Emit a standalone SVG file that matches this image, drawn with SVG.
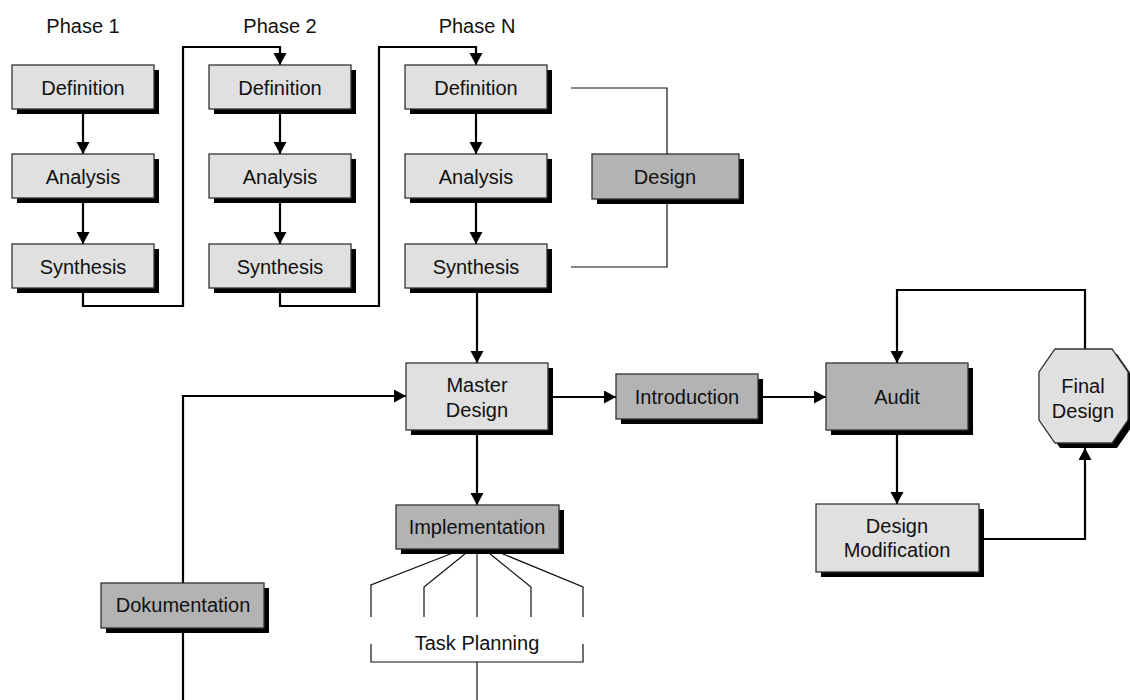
<svg xmlns="http://www.w3.org/2000/svg" width="1130" height="700" viewBox="0 0 1130 700">
  <style>
    .shadow { fill: #000; }
    .light { fill: #e0e0e0; stroke: #333; stroke-width: 1.3; }
    .dark { fill: #b3b3b3; stroke: #333; stroke-width: 1.3; }
    .lbl { font-family: "Liberation Sans", Arial, sans-serif; font-size: 20px; fill: #111; text-anchor: middle; }
    .flow { fill: none; stroke: #000; stroke-width: 2.2; }
    .thin { fill: none; stroke: #111; stroke-width: 1.2; }
  </style>
  <defs>
    <marker id="arrow" markerUnits="userSpaceOnUse" markerWidth="14" markerHeight="14" refX="12" refY="6.5" orient="auto">
      <path d="M0,0 L12,6.5 L0,13 z" fill="#000"/>
    </marker>
  </defs>
  <rect width="1130" height="700" fill="#fff"/>

  <!-- phase headings -->
  <text class="lbl" x="83" y="33">Phase 1</text>
  <text class="lbl" x="280" y="33">Phase 2</text>
  <text class="lbl" x="477" y="33">Phase N</text>

  <!-- connectors -->
  <g id="connectors">
    <path class="flow" d="M83,109 V154" marker-end="url(#arrow)"/>
    <path class="flow" d="M83,198 V244" marker-end="url(#arrow)"/>
    <path class="flow" d="M83,288 V306 H183 V47 H280 V65" marker-end="url(#arrow)"/>
    <path class="flow" d="M280,109 V154" marker-end="url(#arrow)"/>
    <path class="flow" d="M280,198 V244" marker-end="url(#arrow)"/>
    <path class="flow" d="M280,288 V306 H379 V47 H476 V65" marker-end="url(#arrow)"/>
    <path class="flow" d="M476,109 V154" marker-end="url(#arrow)"/>
    <path class="flow" d="M476,198 V244" marker-end="url(#arrow)"/>
    <path class="thin" d="M571,88 H667 V154"/>
    <path class="thin" d="M667,199 V267 H571"/>
    <path class="flow" d="M477,288 V363" marker-end="url(#arrow)"/>
    <path class="flow" d="M548,397 H616" marker-end="url(#arrow)"/>
    <path class="flow" d="M758,397 H826" marker-end="url(#arrow)"/>
    <path class="flow" d="M1085,349 V290 H897 V363" marker-end="url(#arrow)"/>
    <path class="flow" d="M897,430 V504" marker-end="url(#arrow)"/>
    <path class="flow" d="M979,539 H1085 V448" marker-end="url(#arrow)"/>
    <path class="flow" d="M477,430 V505" marker-end="url(#arrow)"/>
    <path class="flow" d="M183,583 V396 H406" marker-end="url(#arrow)"/>
    <path class="flow" d="M183,628 V700"/>
    <!-- task planning fan -->
    <path class="thin" d="M463,549 L371,585 V617"/>
    <path class="thin" d="M471,549 L424,587 V617"/>
    <path class="thin" d="M477,549 V617"/>
    <path class="thin" d="M484,549 L531,587 V617"/>
    <path class="thin" d="M491,549 L583,587 V617"/>
    <path class="thin" d="M371,644 V662 H583 V644"/>
    <path class="thin" d="M477,662 V700"/>
  </g>
  <text class="lbl" x="477" y="650">Task Planning</text>

  <!-- phase 1 -->
  <g id="p1-definition">
    <rect class="shadow" x="17" y="70" width="142" height="44"/>
    <rect class="light" x="12" y="65" width="142" height="44"/>
    <text class="lbl" x="83" y="95">Definition</text>
  </g>
  <g id="p1-analysis">
    <rect class="shadow" x="17" y="159" width="142" height="44"/>
    <rect class="light" x="12" y="154" width="142" height="44"/>
    <text class="lbl" x="83" y="184">Analysis</text>
  </g>
  <g id="p1-synthesis">
    <rect class="shadow" x="17" y="249" width="142" height="44"/>
    <rect class="light" x="12" y="244" width="142" height="44"/>
    <text class="lbl" x="83" y="274">Synthesis</text>
  </g>

  <!-- phase 2 -->
  <g id="p2-definition">
    <rect class="shadow" x="214" y="70" width="142" height="44"/>
    <rect class="light" x="209" y="65" width="142" height="44"/>
    <text class="lbl" x="280" y="95">Definition</text>
  </g>
  <g id="p2-analysis">
    <rect class="shadow" x="214" y="159" width="142" height="44"/>
    <rect class="light" x="209" y="154" width="142" height="44"/>
    <text class="lbl" x="280" y="184">Analysis</text>
  </g>
  <g id="p2-synthesis">
    <rect class="shadow" x="214" y="249" width="142" height="44"/>
    <rect class="light" x="209" y="244" width="142" height="44"/>
    <text class="lbl" x="280" y="274">Synthesis</text>
  </g>

  <!-- phase N -->
  <g id="pn-definition">
    <rect class="shadow" x="410" y="70" width="142" height="44"/>
    <rect class="light" x="405" y="65" width="142" height="44"/>
    <text class="lbl" x="476" y="95">Definition</text>
  </g>
  <g id="pn-analysis">
    <rect class="shadow" x="410" y="159" width="142" height="44"/>
    <rect class="light" x="405" y="154" width="142" height="44"/>
    <text class="lbl" x="476" y="184">Analysis</text>
  </g>
  <g id="pn-synthesis">
    <rect class="shadow" x="410" y="249" width="142" height="44"/>
    <rect class="light" x="405" y="244" width="142" height="44"/>
    <text class="lbl" x="476" y="274">Synthesis</text>
  </g>

  <g id="design">
    <rect class="shadow" x="597" y="159" width="147" height="45"/>
    <rect class="dark" x="592" y="154" width="147" height="45"/>
    <text class="lbl" x="665" y="184">Design</text>
  </g>

  <g id="master-design">
    <rect class="shadow" x="411" y="368" width="142" height="67"/>
    <rect class="light" x="406" y="363" width="142" height="67"/>
    <text class="lbl" x="477" y="392">Master</text>
    <text class="lbl" x="477" y="417">Design</text>
  </g>

  <g id="introduction">
    <rect class="shadow" x="621" y="379" width="142" height="45"/>
    <rect class="dark" x="616" y="374" width="142" height="45"/>
    <text class="lbl" x="687" y="404">Introduction</text>
  </g>

  <g id="audit">
    <rect class="shadow" x="831" y="368" width="142" height="67"/>
    <rect class="dark" x="826" y="363" width="142" height="67"/>
    <text class="lbl" x="897" y="404">Audit</text>
  </g>

  <g id="final-design">
    <polygon class="shadow" points="1060,354 1117,354 1133,377 1133,425 1117,448 1060,448 1044,425 1044,377"/>
    <polygon class="light" points="1055,349 1112,349 1128,372 1128,420 1112,443 1055,443 1039,420 1039,372"/>
    <text class="lbl" x="1083" y="393">Final</text>
    <text class="lbl" x="1083" y="418">Design</text>
  </g>

  <g id="design-modification">
    <rect class="shadow" x="821" y="509" width="163" height="68"/>
    <rect class="light" x="816" y="504" width="163" height="68"/>
    <text class="lbl" x="897" y="533">Design</text>
    <text class="lbl" x="897" y="557">Modification</text>
  </g>

  <g id="implementation">
    <rect class="shadow" x="401" y="510" width="163" height="44"/>
    <rect class="dark" x="396" y="505" width="163" height="44"/>
    <text class="lbl" x="477" y="534">Implementation</text>
  </g>

  <g id="dokumentation">
    <rect class="shadow" x="106" y="588" width="163" height="45"/>
    <rect class="dark" x="101" y="583" width="163" height="45"/>
    <text class="lbl" x="183" y="612">Dokumentation</text>
  </g>
</svg>
